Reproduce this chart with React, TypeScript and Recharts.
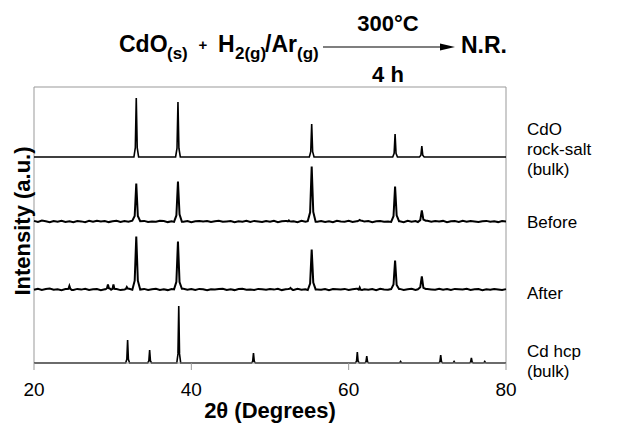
import { LineChart, Line, XAxis, YAxis, ReferenceLine } from 'recharts';

// peak positions (2θ) and heights, in px above each trace's baseline
const X_TICKS = [20, 40, 60, 80];
const CDO_PEAKS = [33.0, 38.3, 55.3, 65.9, 69.3];
const CDO_BULK_HEIGHTS = [59, 55, 33, 23, 11];
const BEFORE_HEIGHTS = [38, 40, 55, 35, 11];
const AFTER_HEIGHTS = [53, 48, 40, 29, 13];
const CD_PEAKS = [31.9, 34.7, 38.4, 47.9, 61.1, 62.3, 66.6, 71.7, 73.4, 75.6, 77.3];
const CD_HEIGHTS = [23, 13, 57, 10, 11, 7, 1.5, 8, 1.5, 5, 1.5];
const BEFORE_MINOR_PEAKS = [52.4, 61.4];
const BEFORE_MINOR_HEIGHTS = [1, 1.5];
const AFTER_MINOR_PEAKS = [24.5, 29.4, 30.1, 31.8, 52.6, 61.4];
const AFTER_MINOR_HEIGHTS = [3.5, 5, 5, 2.5, 1.5, 2];

// vertical stacking offsets: CdO bulk, Before, After, Cd hcp
const TRACE_OFFSETS = [206, 141.5, 73.5, 0];
const TRACE_LABELS = [['CdO', 'rock-salt', '(bulk)'], ['Before'], ['After'], ['Cd hcp', '(bulk)']];

// background noise of the measured patterns, every 0.5° from 20 to 80
const BEFORE_NOISE = [
  0.6, -0.4, 0.9, 0.2, -0.7, 0.5, -0.2, 0.8, -0.5, 0.3,
  -0.6, 0.4, 0.1, -0.8, 0.6, -0.3, 0.7, -0.1, 0.4, -0.6,
  0.2, 0.8, -0.4, 0.5, -0.2, 0.9, -0.7, 0.3, 0.6, -0.5,
  0.1, -0.3, 0.7, 0.4, -0.6, 0.2, -0.4, 0.8, -0.2, 0.5,
  -0.7, 0.3, 0.6, -0.1, 0.4, -0.5, 0.2, 0.7, -0.3, 0.1,
  0.5, -0.6, 0.3, -0.2, 0.8, -0.4, 0.6, 0.1, -0.5, 0.4,
  -0.2, 0.7, -0.6, 0.3, 0.5, -0.1, 0.2, -0.7, 0.6, -0.3,
  0.4, 0.9, -0.2, 0.5, -0.4, 0.3, -0.6, 0.7, 0.1, -0.3,
  0.6, -0.5, 0.2, 0.8, -0.1, 0.4, -0.7, 0.3, 0.5, -0.2,
  0.1, -0.4, 0.6, 0.3, -0.6, 0.7, -0.2, 0.4, -0.5, 0.2,
  0.8, -0.3, 0.5, -0.1, 0.6, -0.6, 0.3, 0.4, -0.4, 0.7,
  -0.2, 0.5, 0.1, -0.5, 0.3, 0.6, -0.3, 0.2, -0.6, 0.4,
  0.1,
];
const AFTER_NOISE = [
  -0.3, 0.7, -0.5, 0.4, 0.9, -0.2, 0.3, -0.6, 0.5, 0.1,
  -0.4, 0.6, -0.1, 0.8, -0.5, 0.2, 0.4, -0.7, 0.3, 0.6,
  -0.2, 0.5, -0.6, 0.1, 0.7, -0.3, 0.4, -0.1, 0.6, -0.5,
  0.3, 0.8, -0.4, 0.2, -0.6, 0.5, 0.1, -0.3, 0.7, -0.2,
  0.4, -0.5, 0.6, 0.2, -0.7, 0.3, -0.1, 0.5, 0.8, -0.4,
  0.2, -0.6, 0.4, 0.7, -0.2, 0.1, -0.5, 0.6, 0.3, -0.3,
  0.5, -0.1, 0.8, -0.6, 0.2, 0.4, -0.4, 0.7, -0.2, 0.3,
  -0.5, 0.6, 0.1, -0.3, 0.5, -0.7, 0.4, 0.2, -0.1, 0.6,
  -0.4, 0.3, 0.7, -0.5, 0.2, -0.2, 0.5, -0.6, 0.8, 0.1,
  -0.3, 0.4, -0.1, 0.6, -0.5, 0.3, 0.7, -0.4, 0.2, -0.6,
  0.5, 0.1, -0.3, 0.8, -0.2, 0.4, -0.5, 0.6, 0.3, -0.1,
  0.7, -0.4, 0.2, 0.5, -0.6, 0.3, -0.2, 0.6, 0.1, -0.5,
  0.4,
];

// peak shape: [offset in half-widths, fraction of height]
const PROFILE = [[-1, 0], [-0.4, 0.16], [0, 1], [0.4, 0.16], [1, 0]];

type Pt = { x: number; y: number };
type PeakSet = { pos: number[]; h: number[]; hw: number };

function buildTrace(offset: number, sets: PeakSet[], noise?: number[]): Pt[] {
  const pts: Pt[] = [];
  const inPeak = (x: number) => sets.some(s => s.pos.some(p => Math.abs(x - p) <= s.hw));
  if (noise) {
    noise.forEach((n, i) => {
      const x = 20 + i * 0.5;
      if (!inPeak(x)) pts.push({ x, y: offset + n });
    });
  } else {
    pts.push({ x: 20, y: offset }, { x: 80, y: offset });
  }
  sets.forEach(s => {
    s.pos.forEach((p, k) => {
      PROFILE.forEach(([dx, f]) => {
        const x = p + dx * s.hw;
        const n = noise ? noise[Math.min(noise.length - 1, Math.round((x - 20) / 0.5))] * (1 - f) : 0;
        pts.push({ x, y: offset + f * s.h[k] + n });
      });
    });
  });
  return pts.sort((a, b) => a.x - b.x);
}

const cdoBulk = buildTrace(TRACE_OFFSETS[0], [{ pos: CDO_PEAKS, h: CDO_BULK_HEIGHTS, hw: 0.3 }]);
const before = buildTrace(TRACE_OFFSETS[1], [
  { pos: CDO_PEAKS, h: BEFORE_HEIGHTS, hw: 0.5 },
  { pos: BEFORE_MINOR_PEAKS, h: BEFORE_MINOR_HEIGHTS, hw: 0.3 },
], BEFORE_NOISE);
const after = buildTrace(TRACE_OFFSETS[2], [
  { pos: CDO_PEAKS, h: AFTER_HEIGHTS, hw: 0.5 },
  { pos: AFTER_MINOR_PEAKS, h: AFTER_MINOR_HEIGHTS, hw: 0.3 },
], AFTER_NOISE);
const cdHcp = buildTrace(TRACE_OFFSETS[3], [{ pos: CD_PEAKS, h: CD_HEIGHTS, hw: 0.25 }]);

const FONT = '"Liberation Sans", Arial, sans-serif';
const GRAY = '#999';

export default function App() {
  const labelY = [[135, 155, 175], [228], [299], [357, 377]];
  return (
    <div style={{ position: 'absolute', left: 0, top: 0, width: 618, height: 428, background: '#fff', fontFamily: FONT }}>
      <LineChart width={618} height={428} margin={{ top: 87, right: 112, bottom: 35, left: 34 }}>
        <XAxis
          type="number"
          dataKey="x"
          domain={[20, 80]}
          ticks={X_TICKS}
          allowDuplicatedCategory={false}
          stroke={GRAY}
          tickSize={7}
          tickMargin={13}
          tick={{ fontSize: 19, fill: '#000', fontFamily: FONT }}
          height={30}
        />
        <YAxis type="number" domain={[0, 276]} hide />
        <ReferenceLine x={20} stroke={GRAY} />
        <ReferenceLine x={80} stroke={GRAY} />
        <ReferenceLine y={276} stroke={GRAY} />
        <Line data={cdoBulk} dataKey="y" type="linear" stroke="#000" strokeWidth={1.6} dot={false} isAnimationActive={false} />
        <Line data={before} dataKey="y" type="linear" stroke="#000" strokeWidth={2} dot={false} isAnimationActive={false} />
        <Line data={after} dataKey="y" type="linear" stroke="#000" strokeWidth={2} dot={false} isAnimationActive={false} />
        <Line data={cdHcp} dataKey="y" type="linear" stroke="#000" strokeWidth={1.6} dot={false} isAnimationActive={false} />
      </LineChart>
      <svg width={618} height={428} style={{ position: 'absolute', left: 0, top: 0, pointerEvents: 'none' }}>
        <g fontFamily={FONT} fontWeight="bold" fill="#000">
          <text x={119} y={52} fontSize={23}>CdO</text>
          <text x={167} y={59} fontSize={17}>(s)</text>
          <text x={203} y={50} fontSize={15} textAnchor="middle">+</text>
          <text x={218} y={52} fontSize={23}>H</text>
          <text x={235} y={59} fontSize={17}>2(g)</text>
          <text x={265} y={52} fontSize={23}>/Ar</text>
          <text x={297} y={59} fontSize={17}>(g)</text>
          <text x={461} y={53} fontSize={23}>N.R.</text>
          <text x={388} y={31} fontSize={22} textAnchor="middle">300°C</text>
          <text x={388} y={82} fontSize={22} textAnchor="middle">4 h</text>
          <text x={270} y={418} fontSize={22} textAnchor="middle">2θ (Degrees)</text>
          <text x={30} y={221} fontSize={22} textAnchor="middle" transform="rotate(-90 30 221)">Intensity (a.u.)</text>
        </g>
        <line x1={323} y1={47} x2={446} y2={47} stroke="#000" strokeWidth={1.2} />
        <polygon points="440,43.5 455,47 440,50.5" fill="#000" />
        <g fontFamily={FONT} fontSize={17} fill="#000">
          {TRACE_LABELS.map((lines, i) =>
            lines.map((t, j) => (
              <text key={`${i}-${j}`} x={527} y={labelY[i][j]}>{t}</text>
            ))
          )}
        </g>
      </svg>
    </div>
  );
}
